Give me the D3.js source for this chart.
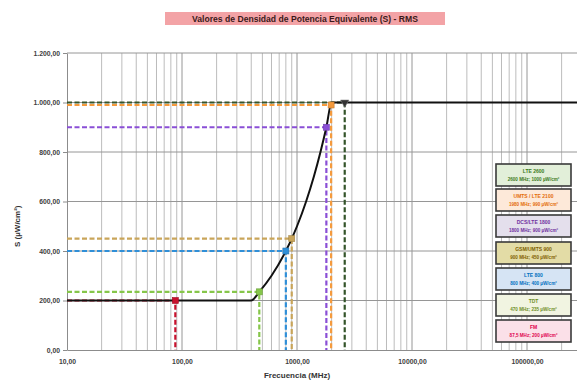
<!DOCTYPE html>
<html>
<head>
<meta charset="utf-8">
<script src="https://cdn.jsdelivr.net/npm/d3@7"></script>
<style>
  body { margin: 0; background: #fff; }
  svg { display: block; font-family: "Liberation Sans", Arial, sans-serif; }
</style>
</head>
<body>
<script>
// limit curve (S vs f)
const limitFreq = [10, 400, 470, 600, 800, 900, 1000, 1200, 1400, 1600, 1800, 2000, 1000000]
const limitS = [200, 200, 235, 300, 400, 450, 500, 600, 700, 800, 900, 1000, 1000]

// services
const names = ["LTE 2600", "UMTS / LTE 2100", "DCS/LTE 1800", "GSM/UMTS 900", "LTE 800", "TDT", "FM"]
const freqs = [2600, 1980, 1800, 900, 800, 470, 87.5]
const values = [1000, 990, 900, 450, 400, 235, 200]
const freqLabels = ["2600 MHz", "1980 MHz", "1800 MHz", "900 MHz", "800 MHz", "470 MHz", "87,5 MHz"]

const yTicks = [0, 200, 400, 600, 800, 1000, 1200]
const xTicks = [10, 100, 1000, 10000, 100000]

const lineColors = ["#34542a", "#f59a3c", "#8a4fd6", "#c9a55a", "#2f8fd8", "#86c64a", "#c8102c"]
const textColors = ["#3c7a22", "#e46c0a", "#7030a0", "#7f6000", "#0070c0", "#6f8f2a", "#e0004d"]
const boxFills = ["#e2efd9", "#fde9d9", "#e4dfec", "#e3dca6", "#d6e4f4", "#f1f4e1", "#fbe0e8"]

const width = 577
const height = 383
const margin = { left: 67, top: 53, bottom: 33 }

const es = d3.formatLocale({ decimal: ",", thousands: ".", grouping: [3], currency: ["", "€"] })
const fmtY = es.format(",.2f")
const fmtX = es.format(".2f")

const x = d3.scaleLog().domain([10, 1000000]).range([margin.left, margin.left + 115 * 5])
const y = d3.scaleLinear().domain([0, 1200]).range([height - margin.bottom, margin.top])

const svg = d3.select("body").append("svg")
  .attr("width", width)
  .attr("height", height)

// title
const title = svg.append("g")
title.append("rect")
  .attr("x", 165).attr("y", 12).attr("width", 280).attr("height", 13)
  .attr("fill", "#f3a3a6")
title.append("text")
  .attr("x", 305).attr("y", 21.5)
  .attr("text-anchor", "middle")
  .attr("font-size", 8.6).attr("font-weight", "bold").attr("fill", "#3a1a1a")
  .text("Valores de Densidad de Potencia Equivalente (S) - RMS")

// vertical grid (log minors + majors)
const minor = []
for (let d = 10; d < 1000000; d *= 10)
  for (let k = 1; k < 10; k++) minor.push(d * k)

svg.append("g")
  .selectAll("line")
  .data(minor.filter(v => v > 10))
  .join("line")
  .attr("x1", d => x(d)).attr("x2", d => x(d))
  .attr("y1", y(1200)).attr("y2", y(0))
  .attr("stroke", d => xTicks.includes(d) ? "#969696" : "#bcbcbc")
  .attr("stroke-width", 1)

// horizontal grid
svg.append("g")
  .selectAll("line")
  .data(yTicks.filter(v => v > 0))
  .join("line")
  .attr("x1", margin.left).attr("x2", width)
  .attr("y1", d => y(d)).attr("y2", d => y(d))
  .attr("stroke", "#969696")

// axes
const yAxis = svg.append("g")
  .attr("transform", `translate(${margin.left},0)`)
  .call(d3.axisLeft(y).tickValues(yTicks).tickFormat(fmtY).tickSize(4).tickSizeOuter(0))
yAxis.select(".domain").attr("stroke", "#8c8c8c")
yAxis.selectAll(".tick line").attr("stroke", "#8c8c8c")
yAxis.selectAll("text")
  .attr("font-size", 6.8).attr("font-weight", "bold").attr("fill", "#404040")
  .attr("font-family", "Liberation Sans, Arial, sans-serif")

const xAxis = svg.append("g")
  .attr("transform", `translate(0,${y(0)})`)
  .call(d3.axisBottom(x).tickValues(xTicks).tickFormat(fmtX).tickSize(0).tickSizeOuter(0))
xAxis.select(".domain").attr("stroke", "#8c8c8c")
xAxis.selectAll("text")
  .attr("dy", "1.55em")
  .attr("font-size", 6.8).attr("font-weight", "bold").attr("fill", "#404040")
  .attr("font-family", "Liberation Sans, Arial, sans-serif")

svg.append("text")
  .attr("x", 297).attr("y", 378)
  .attr("text-anchor", "middle")
  .attr("font-size", 8).attr("font-weight", "bold").attr("fill", "#333")
  .text("Frecuencia (MHz)")

svg.append("text")
  .attr("transform", `translate(20,${y(500)}) rotate(-90)`)
  .attr("text-anchor", "middle")
  .attr("font-size", 8).attr("font-weight", "bold").attr("fill", "#333")
  .text("S (µW/cm²)")

// dashed reference lines for each service
const svc = names.map((n, i) => ({ name: n, f: freqs[i], s: values[i], i }))
const refs = svg.append("g")
svc.slice().reverse().forEach(d => {
  refs.append("path")
    .attr("d", `M${x(10)},${y(d.s)}H${x(d.f)}V${y(0)}`)
    .attr("fill", "none")
    .attr("stroke", lineColors[d.i])
    .attr("stroke-width", 2.2)
    .attr("stroke-dasharray", "5,2.5")
})

// limit curve
const line = d3.line()
  .x(d => x(d[0]))
  .y(d => y(d[1]))
  .curve(d3.curveMonotoneX)

svg.append("path")
  .datum(limitFreq.map((f, i) => [f, limitS[i]]))
  .attr("d", line)
  .attr("fill", "none")
  .attr("stroke", "#111")
  .attr("stroke-width", 2)

// markers
svc.forEach(d => {
  if (d.i === 0) {
    svg.append("path")
      .attr("d", d3.symbol(d3.symbolTriangle, 30))
      .attr("transform", `translate(${x(d.f)},${y(d.s)}) rotate(180)`)
      .attr("fill", "#333").attr("stroke", "#777").attr("stroke-width", 0.6)
  } else {
    svg.append("rect")
      .attr("x", x(d.f) - 3).attr("y", y(d.s) - 3)
      .attr("width", 6).attr("height", 6)
      .attr("fill", lineColors[d.i])
      .attr("stroke", d3.color(lineColors[d.i]).darker(0.6))
      .attr("stroke-width", 0.6)
  }
})

// legend boxes
const boxY = [164, 189, 215, 242, 268, 294, 320]
const legend = svg.append("g")
  .selectAll("g")
  .data(svc)
  .join("g")
  .attr("transform", d => `translate(496,${boxY[d.i]})`)

legend.append("rect")
  .attr("width", 75).attr("height", 22)
  .attr("fill", d => boxFills[d.i])
  .attr("stroke", "#3a3a3a").attr("stroke-width", 1.6)

legend.append("text")
  .attr("x", 37.5).attr("y", 9)
  .attr("text-anchor", "middle")
  .attr("font-size", 5).attr("font-weight", "bold")
  .attr("fill", d => textColors[d.i])
  .text(d => d.name)

legend.append("text")
  .attr("x", 37.5).attr("y", 16.5)
  .attr("text-anchor", "middle")
  .attr("font-size", 4.6).attr("font-weight", "bold")
  .attr("fill", d => textColors[d.i])
  .text(d => `${freqLabels[d.i]}; ${d.s} µW/cm²`)
</script>
</body>
</html>
